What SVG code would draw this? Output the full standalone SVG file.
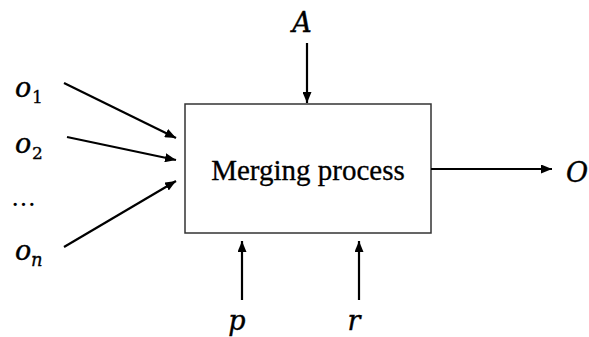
<svg xmlns="http://www.w3.org/2000/svg" width="589" height="337" viewBox="0 0 589 337">
<style>
.lbl{font-family:"DejaVu Serif",serif;font-style:italic;font-size:27px;fill:#000;stroke:#000;stroke-width:0.4}
.sub{font-family:"DejaVu Serif",serif;font-size:17px;fill:#000;stroke:#000;stroke-width:0.3}
.subi{font-family:"DejaVu Serif",serif;font-style:italic;font-size:18px;fill:#000;stroke:#000;stroke-width:0.3}
.edge{stroke:#000;stroke-width:2.2;fill:none;marker-end:url(#ah)}
</style>
<defs>
<marker id="ah" viewBox="0 0 11 9" refX="11" refY="4.5" markerWidth="11" markerHeight="9" markerUnits="userSpaceOnUse" orient="auto">
<path d="M0,0 L11,4.5 L0,9 Z" fill="#000"/>
</marker>
</defs>
<rect width="589" height="337" fill="#fff"/>
<g id="process">
<rect x="185" y="104" width="246" height="129" fill="#fff" stroke="#333" stroke-width="1.5"/>
<text x="308" y="180" text-anchor="middle" style="font-family:'Liberation Serif',serif;font-size:29px;stroke:#000;stroke-width:0.3">Merging process</text>
</g>
<g id="o1"><text class="lbl" x="15" y="97">o</text><text class="sub" x="32" y="103">1</text></g>
<g id="o2"><text class="lbl" x="15" y="153">o</text><text class="sub" x="32" y="159">2</text></g>
<g id="dots"><text x="11" y="206" style="font-family:'DejaVu Serif',serif;font-size:25px">…</text></g>
<g id="on"><text class="lbl" x="15" y="260">o</text><text class="subi" x="31" y="266">n</text></g>
<g id="A"><text class="lbl" x="302" y="32" text-anchor="middle">A</text></g>
<g id="p"><text class="lbl" x="237" y="330" text-anchor="middle">p</text></g>
<g id="r"><text class="lbl" x="354" y="330" text-anchor="middle">r</text></g>
<g id="O"><text class="lbl" x="577" y="182" text-anchor="middle">O</text></g>
<g id="connectors">
<line class="edge" x1="64" y1="83" x2="176" y2="138"/>
<line class="edge" x1="67" y1="137" x2="176" y2="160"/>
<line class="edge" x1="64" y1="247" x2="176" y2="181"/>
<line class="edge" x1="307" y1="43" x2="307" y2="103"/>
<line class="edge" x1="242" y1="300" x2="242" y2="241"/>
<line class="edge" x1="359" y1="300" x2="359" y2="241"/>
<line class="edge" x1="431" y1="169" x2="552" y2="169"/>
</g>
</svg>
